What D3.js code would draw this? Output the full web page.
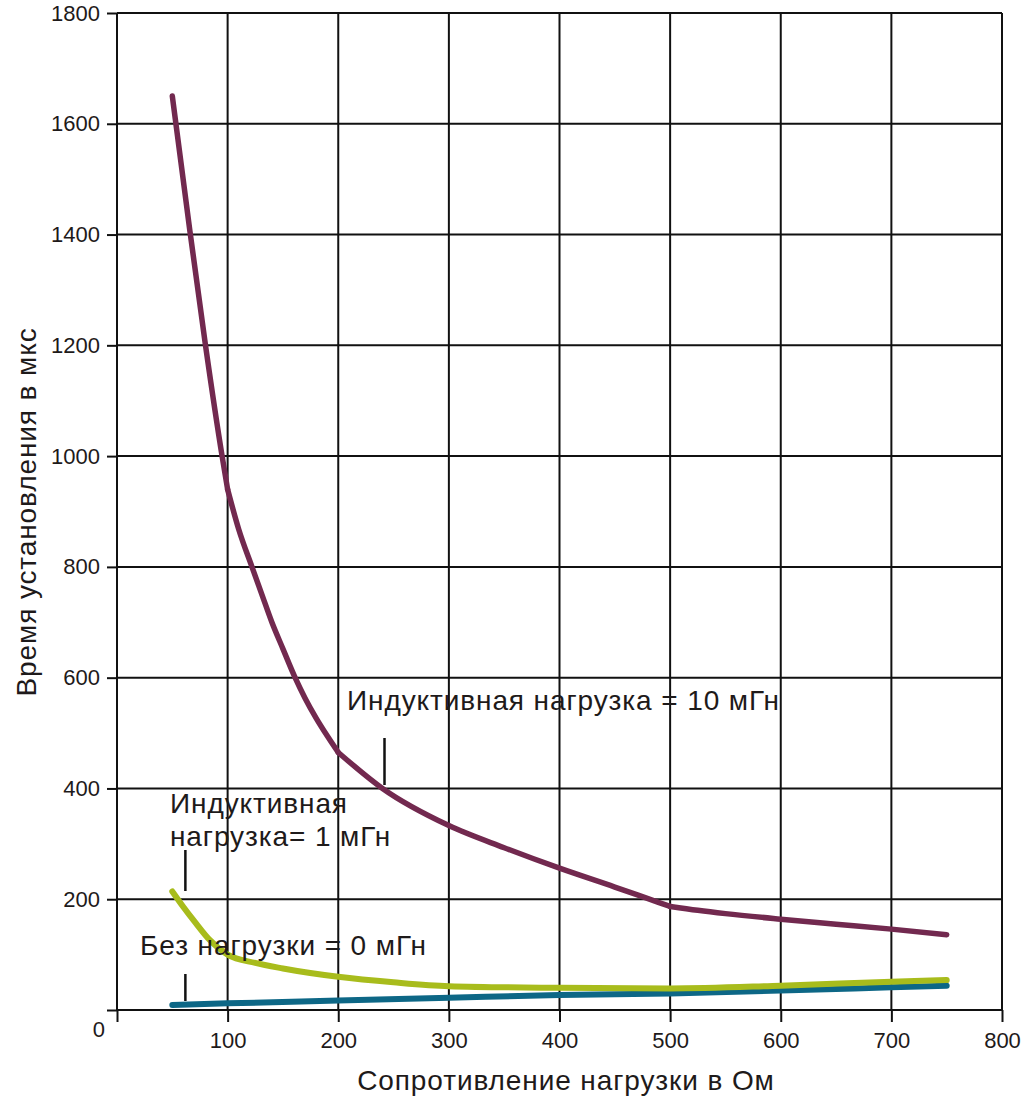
<!DOCTYPE html>
<html><head><meta charset="utf-8">
<script src="https://cdn.jsdelivr.net/npm/d3@7"></script>
<style>
html,body{margin:0;padding:0;background:#fff;}
text{font-family:"Liberation Sans",Arial,sans-serif;fill:#1e1a1a;}
</style></head>
<body><svg id="chart" width="1030" height="1097"></svg>
<script>
// ---- data ----
const xTicks = [100, 200, 300, 400, 500, 600, 700, 800];
const yTicks = [200, 400, 600, 800, 1000, 1200, 1400, 1600, 1800];
const xLabel = "Сопротивление нагрузки в Ом";
const yLabel = "Время установления в мкс";

const resist10 = [50, 66, 80, 95, 100, 110, 122, 131, 140, 150, 161, 170, 180, 190, 200, 240, 300, 350, 400, 450, 480, 500, 525, 550, 600, 650, 700, 750];
const time10   = [1650, 1405, 1200, 1000, 940, 868, 800, 750, 700, 652, 600, 563, 527, 495, 465, 400, 333, 293, 256, 222, 201, 187, 180, 174, 164, 155, 146, 136];
const kinks10  = [100, 200, 500];

const resist1 = [50, 60, 70, 84, 100, 125, 150, 200, 250, 300, 400, 500, 600, 700, 750];
const time1   = [214, 186, 160, 126, 100, 85, 75, 60, 50, 43, 40, 39, 44, 51, 54];

const resist0 = [50, 100, 200, 300, 400, 500, 600, 700, 750];
const time0   = [9, 12, 17, 22, 27, 30, 35, 41, 44];

const seriesNames = ["Индуктивная нагрузка = 10 мГн", "Индуктивная\nнагрузка= 1 мГн", "Без нагрузки = 0 мГн"];

// ---- chart ----
const svg = d3.select("#chart");
const x = d3.scaleLinear().domain([0, 800]).range([117, 1002]);
const y = d3.scaleLinear().domain([0, 1800]).range([1010, 13]);

const gridColor = "#111";
// grid
svg.append("g").selectAll("line").data(xTicks).join("line")
  .attr("x1", d => x(d)).attr("x2", d => x(d))
  .attr("y1", y(1800)).attr("y2", y(0))
  .attr("stroke", gridColor).attr("stroke-width", 2);
svg.append("g").selectAll("line").data(yTicks).join("line")
  .attr("x1", x(0)).attr("x2", x(800))
  .attr("y1", d => y(d)).attr("y2", d => y(d))
  .attr("stroke", gridColor).attr("stroke-width", 2);

// axes
const xAxis = svg.append("g").attr("transform", `translate(0,${y(0)})`)
  .call(d3.axisBottom(x).tickValues([0, ...xTicks]).tickSize(12).tickPadding(10)
    .tickFormat(d => d === 0 ? "" : d));
xAxis.select(".domain").attr("stroke", gridColor).attr("stroke-width", 2).attr("d", `M${x(0)},0H${x(800)+1}`);
xAxis.selectAll(".tick line").attr("stroke", gridColor).attr("stroke-width", 2);
xAxis.selectAll(".tick text").attr("font-size", 22).attr("font-family", "Liberation Sans, Arial, sans-serif").attr("fill", "#1e1a1a");

const yAxis = svg.append("g").attr("transform", `translate(${x(0)},0)`)
  .call(d3.axisLeft(y).tickValues([0, ...yTicks]).tickSize(10).tickPadding(7)
    .tickFormat(d => d === 0 ? "" : d));
yAxis.select(".domain").attr("stroke", gridColor).attr("stroke-width", 2).attr("d", `M0,${y(0)}V${y(1800)}`);
yAxis.selectAll(".tick line").attr("stroke", gridColor).attr("stroke-width", 2);
yAxis.selectAll(".tick text").attr("font-size", 22).attr("font-family", "Liberation Sans, Arial, sans-serif").attr("fill", "#1e1a1a");

// zero label
svg.append("text").attr("x", x(0) - 12).attr("y", y(0) + 27).attr("text-anchor", "end")
  .attr("font-size", 22).text("0");

// curves
const line = d3.line().x(d => x(d[0])).y(d => y(d[1])).curve(d3.curveMonotoneX);
function drawSeries(xs, ys, color, w, kinks) {
  const pts = xs.map((v, i) => [v, ys[i]]);
  // split into smooth pieces at kink points
  const pieces = [];
  let cur = [];
  pts.forEach(p => {
    cur.push(p);
    if (kinks.includes(p[0])) { pieces.push(cur); cur = [p]; }
  });
  if (cur.length > 1) pieces.push(cur);
  pieces.forEach(pc => {
    svg.append("path").datum(pc).attr("d", line).attr("fill", "none")
      .attr("stroke", color).attr("stroke-width", w)
      .attr("stroke-linecap", "round").attr("stroke-linejoin", "round");
  });
}
drawSeries(resist0, time0, "#0d6786", 6, []);
drawSeries(resist1, time1, "#a8bc1c", 6, []);
drawSeries(resist10, time10, "#72294f", 5.5, kinks10);

// annotation ticks
const marks = [[240, 738, 785], [60, 850, 891], [60, 974, 1001]];
svg.append("g").selectAll("line").data(marks).join("line")
  .attr("x1", d => x(d[0]) + 2).attr("x2", d => x(d[0]) + 2)
  .attr("y1", d => d[1]).attr("y2", d => d[2])
  .attr("stroke", "#111").attr("stroke-width", 2.5);

// annotations
const ann = svg.append("g").attr("font-size", 28).attr("letter-spacing", 0.9);
ann.append("text").attr("x", 347).attr("y", 710).text(seriesNames[0]);
const t1 = ann.append("text").attr("x", 170).attr("y", 813);
seriesNames[1].split("\n").forEach((s, i) => t1.append("tspan").attr("x", 170).attr("dy", i ? 33 : 0).text(s));
ann.append("text").attr("x", 140).attr("y", 955).text(seriesNames[2]);

// axis titles
svg.append("text").attr("x", 566).attr("y", 1090).attr("text-anchor", "middle")
  .attr("font-size", 28).attr("letter-spacing", 0.9).text(xLabel);
svg.append("text").attr("transform", "translate(36,512) rotate(-90)").attr("text-anchor", "middle")
  .attr("font-size", 28).attr("letter-spacing", 0.9).text(yLabel);
</script></body></html>
